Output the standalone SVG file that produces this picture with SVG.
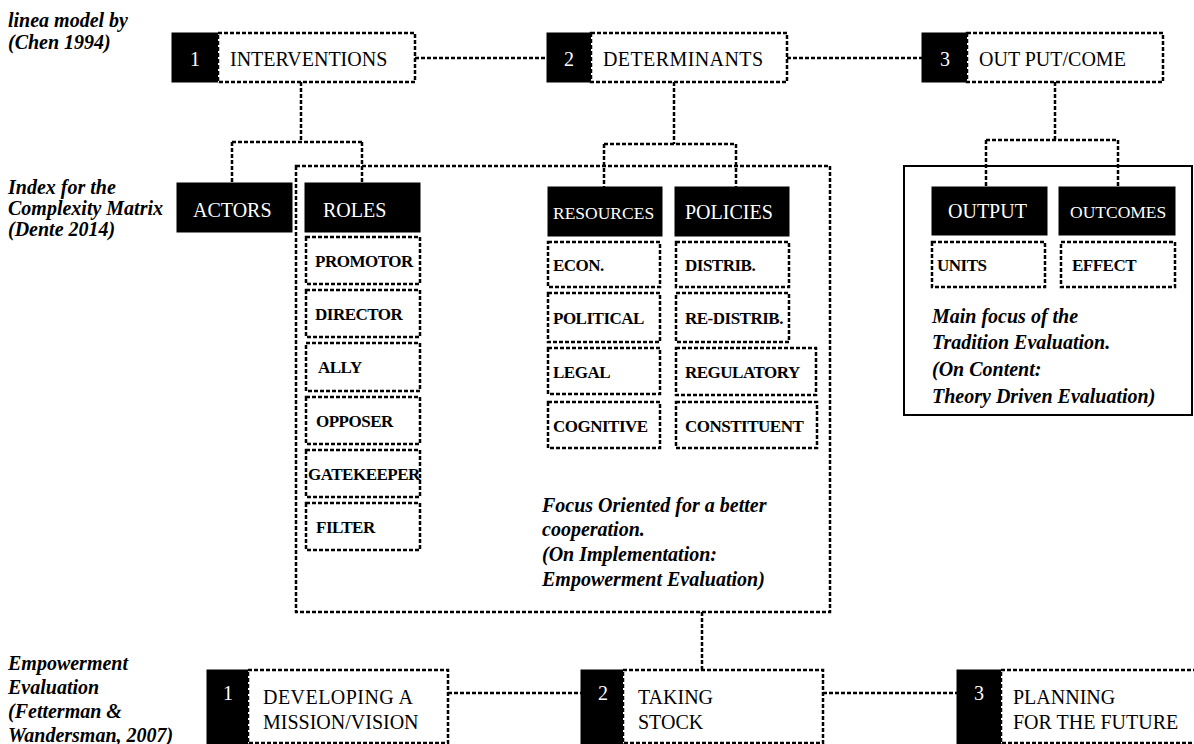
<svg xmlns="http://www.w3.org/2000/svg" width="1194" height="744" viewBox="0 0 1194 744">
  <style>
    .box { fill: #fff; stroke: #000; stroke-width: 2.5; stroke-dasharray: 4 2; }
    .blk { fill: #000; stroke: #000; stroke-width: 1; }
    .frame { fill: none; stroke: #000; stroke-width: 2.5; stroke-dasharray: 4 2; }
    .solid { fill: none; stroke: #000; stroke-width: 2; }
    .conn { fill: none; stroke: #000; stroke-width: 2.5; stroke-dasharray: 4 2; }
    text { font-family: "Liberation Serif", "Times New Roman", serif; fill: #000; }
    .t { font-size: 20px; }
    .tw { font-size: 20px; fill: #fff; }
    .tws { font-size: 17.5px; fill: #fff; }
    .tb { font-size: 17px; font-weight: bold; letter-spacing: -0.5px; }
    .ti { font-size: 20px; font-weight: bold; font-style: italic; }
  </style>

  <!-- side captions -->
  <g id="caption-chen">
    <text class="ti" x="8" y="27">linea model by</text>
    <text class="ti" x="8" y="49">(Chen 1994)</text>
  </g>
  <g id="caption-dente">
    <text class="ti" x="8" y="194">Index for the</text>
    <text class="ti" x="8" y="215">Complexity Matrix</text>
    <text class="ti" x="8" y="236">(Dente 2014)</text>
  </g>
  <g id="caption-fetterman">
    <text class="ti" x="8" y="670">Empowerment</text>
    <text class="ti" x="8" y="694">Evaluation</text>
    <text class="ti" x="8" y="718">(Fetterman &amp;</text>
    <text class="ti" x="8" y="742">Wandersman, 2007)</text>
  </g>

  <!-- containers -->
  <g id="implementation-frame">
    <rect class="frame" x="296" y="166" width="534" height="446"/>
    <text class="ti" x="542" y="512">Focus Oriented for a better</text>
    <text class="ti" x="542" y="536">cooperation.</text>
    <text class="ti" x="542" y="561">(On Implementation:</text>
    <text class="ti" x="542" y="586">Empowerment Evaluation)</text>
  </g>
  <g id="content-frame">
    <rect class="solid" x="904" y="166" width="288" height="249"/>
    <text class="ti" x="932" y="323">Main focus of the</text>
    <text class="ti" x="932" y="349">Tradition Evaluation.</text>
    <text class="ti" x="932" y="376">(On Content:</text>
    <text class="ti" x="932" y="403">Theory Driven Evaluation)</text>
  </g>

  <!-- connectors -->
  <g id="connectors">
    <path class="conn" d="M415 58 H547"/>
    <path class="conn" d="M787 58 H922"/>
    <path class="conn" d="M301 82 V142 M232 142 H362 M232 142 V183 M362 142 V183"/>
    <path class="conn" d="M674 82 V144 M604 144 H736 M604 144 V187 M736 144 V187"/>
    <path class="conn" d="M1055 82 V140 M986 140 H1118 M986 140 V187 M1118 140 V187"/>
    <path class="conn" d="M702 612 V670"/>
    <path class="conn" d="M448 693 H581"/>
    <path class="conn" d="M823 693 H957"/>
  </g>

  <!-- top row: Chen model -->
  <g id="interventions">
    <rect class="blk" x="172" y="33" width="46" height="49"/>
    <text class="tw" x="195" y="66" text-anchor="middle">1</text>
    <rect class="box" x="218" y="33" width="197" height="49"/>
    <text class="t" x="230" y="66">INTERVENTIONS</text>
  </g>
  <g id="determinants">
    <rect class="blk" x="547" y="33" width="44" height="49"/>
    <text class="tw" x="569" y="66" text-anchor="middle">2</text>
    <rect class="box" x="591" y="33" width="196" height="49"/>
    <text class="t" x="603" y="66" textLength="160">DETERMINANTS</text>
  </g>
  <g id="output-outcome">
    <rect class="blk" x="922" y="33" width="45" height="49"/>
    <text class="tw" x="945" y="66" text-anchor="middle">3</text>
    <rect class="box" x="967" y="33" width="196" height="49"/>
    <text class="t" x="979" y="66">OUT PUT/COME</text>
  </g>

  <!-- complexity matrix index -->
  <g id="actors">
    <rect class="blk" x="177" y="183" width="115" height="49"/>
    <text class="tw" x="193" y="217">ACTORS</text>
  </g>
  <g id="roles">
    <rect class="blk" x="305" y="183" width="115" height="49"/>
    <text class="tw" x="323" y="217">ROLES</text>
  </g>
  <g id="role-promotor">
    <rect class="box" x="306" y="237" width="114" height="47"/>
    <text class="tb" x="315" y="267">PROMOTOR</text>
  </g>
  <g id="role-director">
    <rect class="box" x="306" y="290" width="114" height="47"/>
    <text class="tb" x="315" y="320">DIRECTOR</text>
  </g>
  <g id="role-ally">
    <rect class="box" x="306" y="343" width="114" height="48"/>
    <text class="tb" x="318" y="373">ALLY</text>
  </g>
  <g id="role-opposer">
    <rect class="box" x="306" y="397" width="114" height="47"/>
    <text class="tb" x="316" y="427">OPPOSER</text>
  </g>
  <g id="role-gatekeeper">
    <rect class="box" x="306" y="450" width="114" height="47"/>
    <text class="tb" x="308" y="480">GATEKEEPER</text>
  </g>
  <g id="role-filter">
    <rect class="box" x="306" y="503" width="114" height="47"/>
    <text class="tb" x="316" y="533">FILTER</text>
  </g>

  <g id="resources">
    <rect class="blk" x="548" y="187" width="114" height="49"/>
    <text class="tws" x="553" y="219">RESOURCES</text>
  </g>
  <g id="policies">
    <rect class="blk" x="675" y="187" width="114" height="49"/>
    <text class="tw" x="685" y="219">POLICIES</text>
  </g>
  <g id="res-econ">
    <rect class="box" x="548" y="242" width="112" height="45"/>
    <text class="tb" x="553" y="271">ECON.</text>
  </g>
  <g id="res-political">
    <rect class="box" x="548" y="293" width="112" height="49"/>
    <text class="tb" x="553" y="324">POLITICAL</text>
  </g>
  <g id="res-legal">
    <rect class="box" x="548" y="348" width="112" height="46"/>
    <text class="tb" x="553" y="378">LEGAL</text>
  </g>
  <g id="res-cognitive">
    <rect class="box" x="548" y="402" width="112" height="46"/>
    <text class="tb" x="553" y="432">COGNITIVE</text>
  </g>
  <g id="pol-distrib">
    <rect class="box" x="676" y="242" width="113" height="45"/>
    <text class="tb" x="685" y="271">DISTRIB.</text>
  </g>
  <g id="pol-redistrib">
    <rect class="box" x="676" y="293" width="113" height="49"/>
    <text class="tb" x="685" y="324">RE-DISTRIB.</text>
  </g>
  <g id="pol-regulatory">
    <rect class="box" x="676" y="348" width="140" height="47"/>
    <text class="tb" x="685" y="378">REGULATORY</text>
  </g>
  <g id="pol-constituent">
    <rect class="box" x="676" y="402" width="141" height="46"/>
    <text class="tb" x="685" y="432">CONSTITUENT</text>
  </g>

  <g id="output">
    <rect class="blk" x="932" y="187" width="115" height="48"/>
    <text class="tw" x="948" y="218">OUTPUT</text>
  </g>
  <g id="outcomes">
    <rect class="blk" x="1059" y="187" width="116" height="48"/>
    <text class="tws" x="1070" y="218">OUTCOMES</text>
  </g>
  <g id="out-units">
    <rect class="box" x="932" y="242" width="113" height="45"/>
    <text class="tb" x="937" y="271">UNITS</text>
  </g>
  <g id="out-effect">
    <rect class="box" x="1061" y="242" width="114" height="45"/>
    <text class="tb" x="1072" y="271">EFFECT</text>
  </g>

  <!-- bottom row: empowerment evaluation steps -->
  <g id="mission-vision">
    <rect class="blk" x="207" y="670" width="41" height="76"/>
    <text class="tw" x="228" y="700" text-anchor="middle">1</text>
    <rect class="box" x="248" y="670" width="200" height="73"/>
    <text class="t" x="263" y="704" textLength="150">DEVELOPING A</text>
    <text class="t" x="263" y="729">MISSION/VISION</text>
  </g>
  <g id="taking-stock">
    <rect class="blk" x="581" y="670" width="42" height="76"/>
    <text class="tw" x="603" y="700" text-anchor="middle">2</text>
    <rect class="box" x="623" y="670" width="200" height="73"/>
    <text class="t" x="638" y="704">TAKING</text>
    <text class="t" x="638" y="729">STOCK</text>
  </g>
  <g id="planning-future">
    <rect class="blk" x="957" y="670" width="44" height="76"/>
    <text class="tw" x="979" y="700" text-anchor="middle">3</text>
    <rect class="box" x="1001" y="670" width="200" height="73"/>
    <text class="t" x="1013" y="704">PLANNING</text>
    <text class="t" x="1013" y="729">FOR THE FUTURE</text>
  </g>
</svg>
